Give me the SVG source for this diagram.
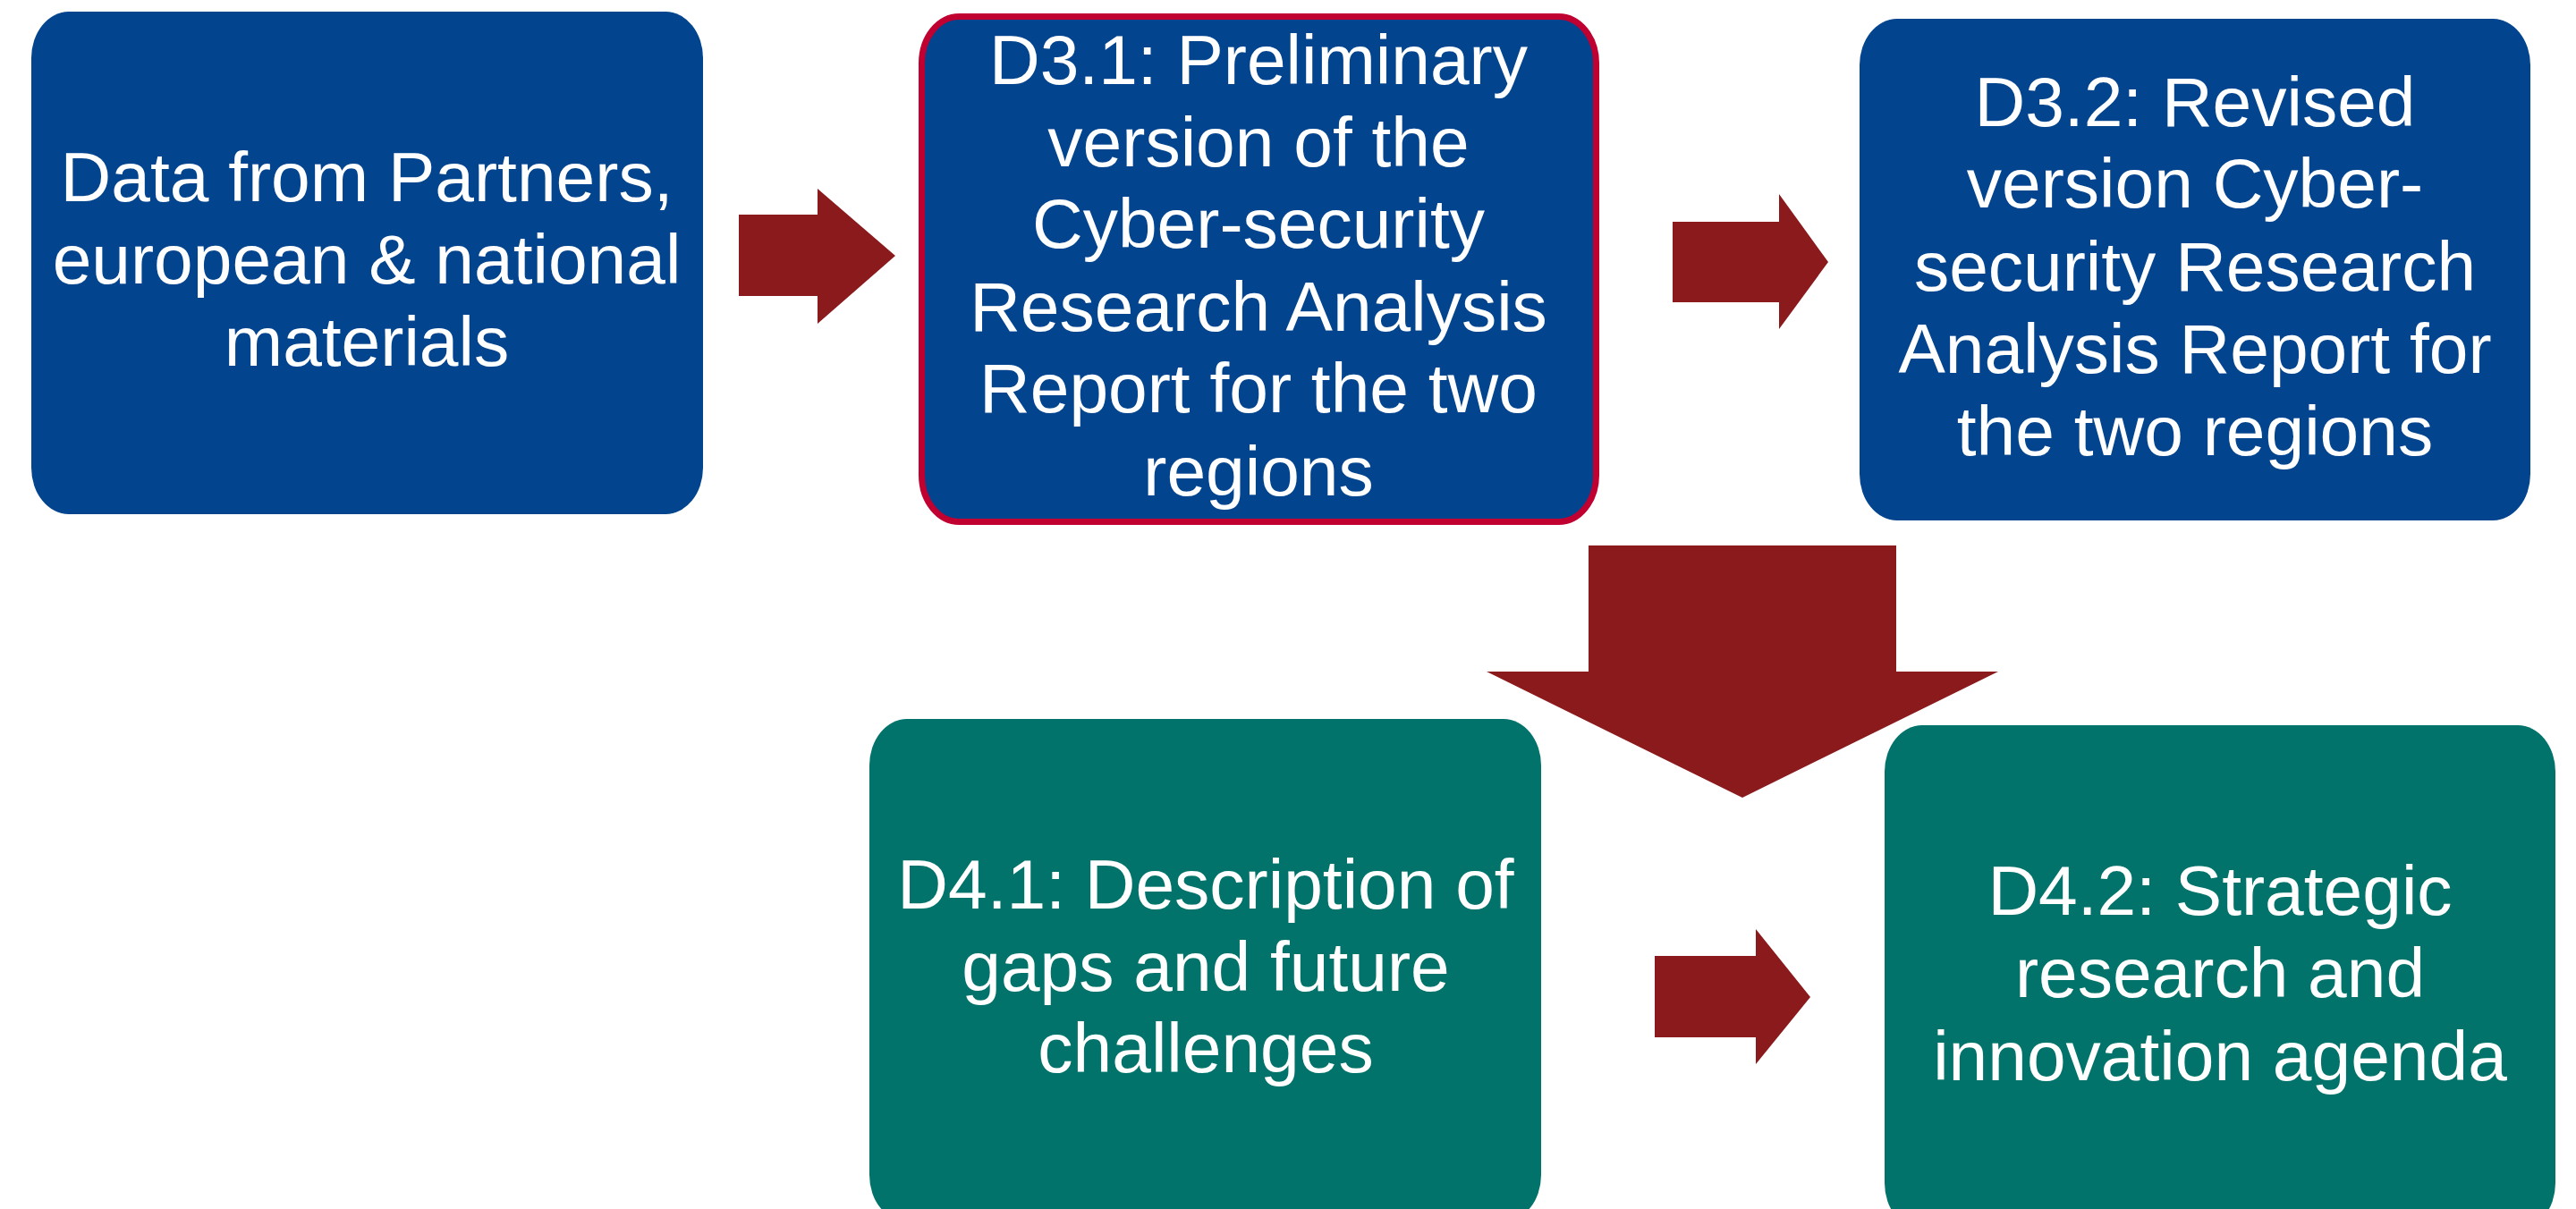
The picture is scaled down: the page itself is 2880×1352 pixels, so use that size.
<svg xmlns="http://www.w3.org/2000/svg" width="2880" height="1352" viewBox="0 0 2880 1352">
<style>
.blue{fill:#03448F}
.teal{fill:#02736B}
.arrow{fill:#8B1A1C}
.lbl{font-family:"Liberation Sans",Arial,sans-serif;font-size:78.5px;fill:#FFFFFF;text-anchor:middle}
</style>
<rect width="2880" height="1352" fill="#FFFFFF"/>
<g id="connectors">
<polygon class="arrow" points="826,240 914,240 914,211 1001,286 914,362 914,331 826,331"/>
<polygon class="arrow" points="1870,248 1989,248 1989,217 2044,293 1989,368 1989,338 1870,338"/>
<polygon class="arrow" points="1776,610 2120,610 2120,751 2234,751 1948,892 1662,751 1776,751"/>
<polygon class="arrow" points="1850,1069 1963,1069 1963,1039 2024,1115 1963,1190 1963,1160 1850,1160"/>
</g>
<g id="node-data">
<rect class="blue" x="35" y="13" width="751" height="562" rx="42" ry="52"/>
<text class="lbl"><tspan x="410" y="225">Data from Partners,</tspan><tspan x="410" y="317">european &amp; national</tspan><tspan x="410" y="409">materials</tspan></text>
</g>
<g id="node-d31">
<rect class="blue" x="1030.5" y="18.5" width="754" height="565" rx="42" ry="52" stroke="#C00030" stroke-width="7"/>
<text class="lbl"><tspan x="1407" y="94">D3.1: Preliminary</tspan><tspan x="1407" y="186">version of the</tspan><tspan x="1407" y="277">Cyber-security</tspan><tspan x="1407" y="370">Research Analysis</tspan><tspan x="1407" y="461">Report for the two</tspan><tspan x="1407" y="554">regions</tspan></text>
</g>
<g id="node-d32">
<rect class="blue" x="2079" y="21" width="750" height="561" rx="42" ry="52"/>
<text class="lbl"><tspan x="2454" y="141">D3.2: Revised</tspan><tspan x="2454" y="232">version Cyber-</tspan><tspan x="2454" y="325">security Research</tspan><tspan x="2454" y="417">Analysis Report for</tspan><tspan x="2454" y="509">the two regions</tspan></text>
</g>
<g id="node-d41">
<rect class="teal" x="972" y="804" width="751" height="562" rx="42" ry="52"/>
<text class="lbl"><tspan x="1348" y="1016">D4.1: Description of</tspan><tspan x="1348" y="1108">gaps and future</tspan><tspan x="1348" y="1199">challenges</tspan></text>
</g>
<g id="node-d42">
<rect class="teal" x="2107" y="811" width="750" height="564" rx="42" ry="52"/>
<text class="lbl"><tspan x="2482" y="1023">D4.2: Strategic</tspan><tspan x="2482" y="1115">research and</tspan><tspan x="2482" y="1208">innovation agenda</tspan></text>
</g>
</svg>
